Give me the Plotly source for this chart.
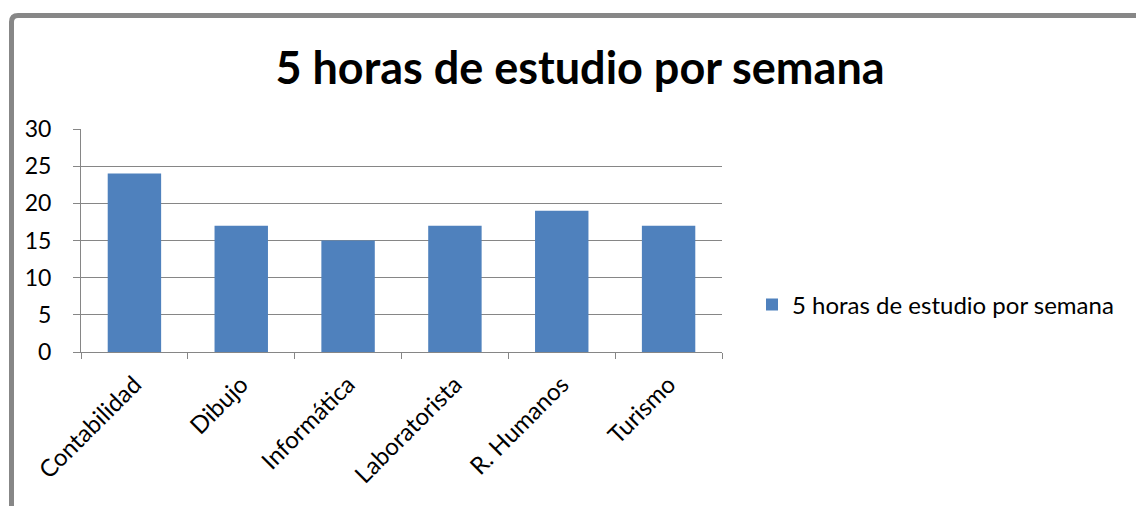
import plotly.graph_objects as go

categories = ["Contabilidad", "Dibujo", "Informática", "Laboratorista", "R. Humanos", "Turismo"]
values = [24, 17, 15, 17, 19, 17]
series_name = "5 horas de estudio por semana"
title_text = "5 horas de estudio por semana"

W, H = 1136, 506
L, R, T, B = 81, 722, 129, 352

def px_x(px):
    return (px - L) / (R - L)

def px_y(py):
    return (B - py) / (B - T)

FONT = "Lato"
fig = go.Figure()
fig.add_trace(go.Bar(
    x=categories, y=values, name=series_name,
    marker=dict(color="#4F81BD", line=dict(width=0)),
    showlegend=True,
))

fig.update_layout(
    width=W, height=H,
    margin=dict(l=L, r=W - R, t=T, b=H - B, pad=0, autoexpand=False),
    paper_bgcolor="white", plot_bgcolor="white",
    font=dict(family=FONT, size=24, color="#000000"),
    bargap=0.5,
    title=dict(text="<b>" + title_text + "</b>", x=580 / W, xref="container", xanchor="center",
               y=1 - 68 / H, yref="container", yanchor="middle",
               font=dict(family=FONT, size=45, color="#000000")),
    showlegend=True,
    legend=dict(x=px_x(752), y=px_y(305), xanchor="left", yanchor="middle",
                font=dict(family=FONT, size=24, color="#000000"),
                bgcolor="rgba(0,0,0,0)", itemsizing="constant"),
    xaxis=dict(showline=True, linecolor="#868686", linewidth=1, ticks="outside", ticklen=6,
               tickcolor="#868686", tickson="boundaries", tickangle=-45,
               tickfont=dict(family=FONT, size=24), showgrid=False, ticklabelstandoff=8,
               automargin=False),
    yaxis=dict(range=[0, 30], dtick=5, showline=True, linecolor="#868686", linewidth=1,
               ticks="outside", ticklen=7, tickcolor="#868686", showgrid=True,
               gridcolor="#868686", gridwidth=1, tickfont=dict(family=FONT, size=23),
               ticklabelstandoff=17, zeroline=False, automargin=False),
)

fig.add_shape(type="path",
              path=f"M {px_x(11.5)} {px_y(560)} L {px_x(11.5)} {px_y(22)} Q {px_x(11.5)} {px_y(15.5)} {px_x(18)} {px_y(15.5)} L {px_x(1200)} {px_y(15.5)}",
              xref="paper", yref="paper", line=dict(color="#878787", width=5), layer="above")

fig.write_html("out.html", config={"displayModeBar": False},
               post_script="document.body.style.margin='0';")
